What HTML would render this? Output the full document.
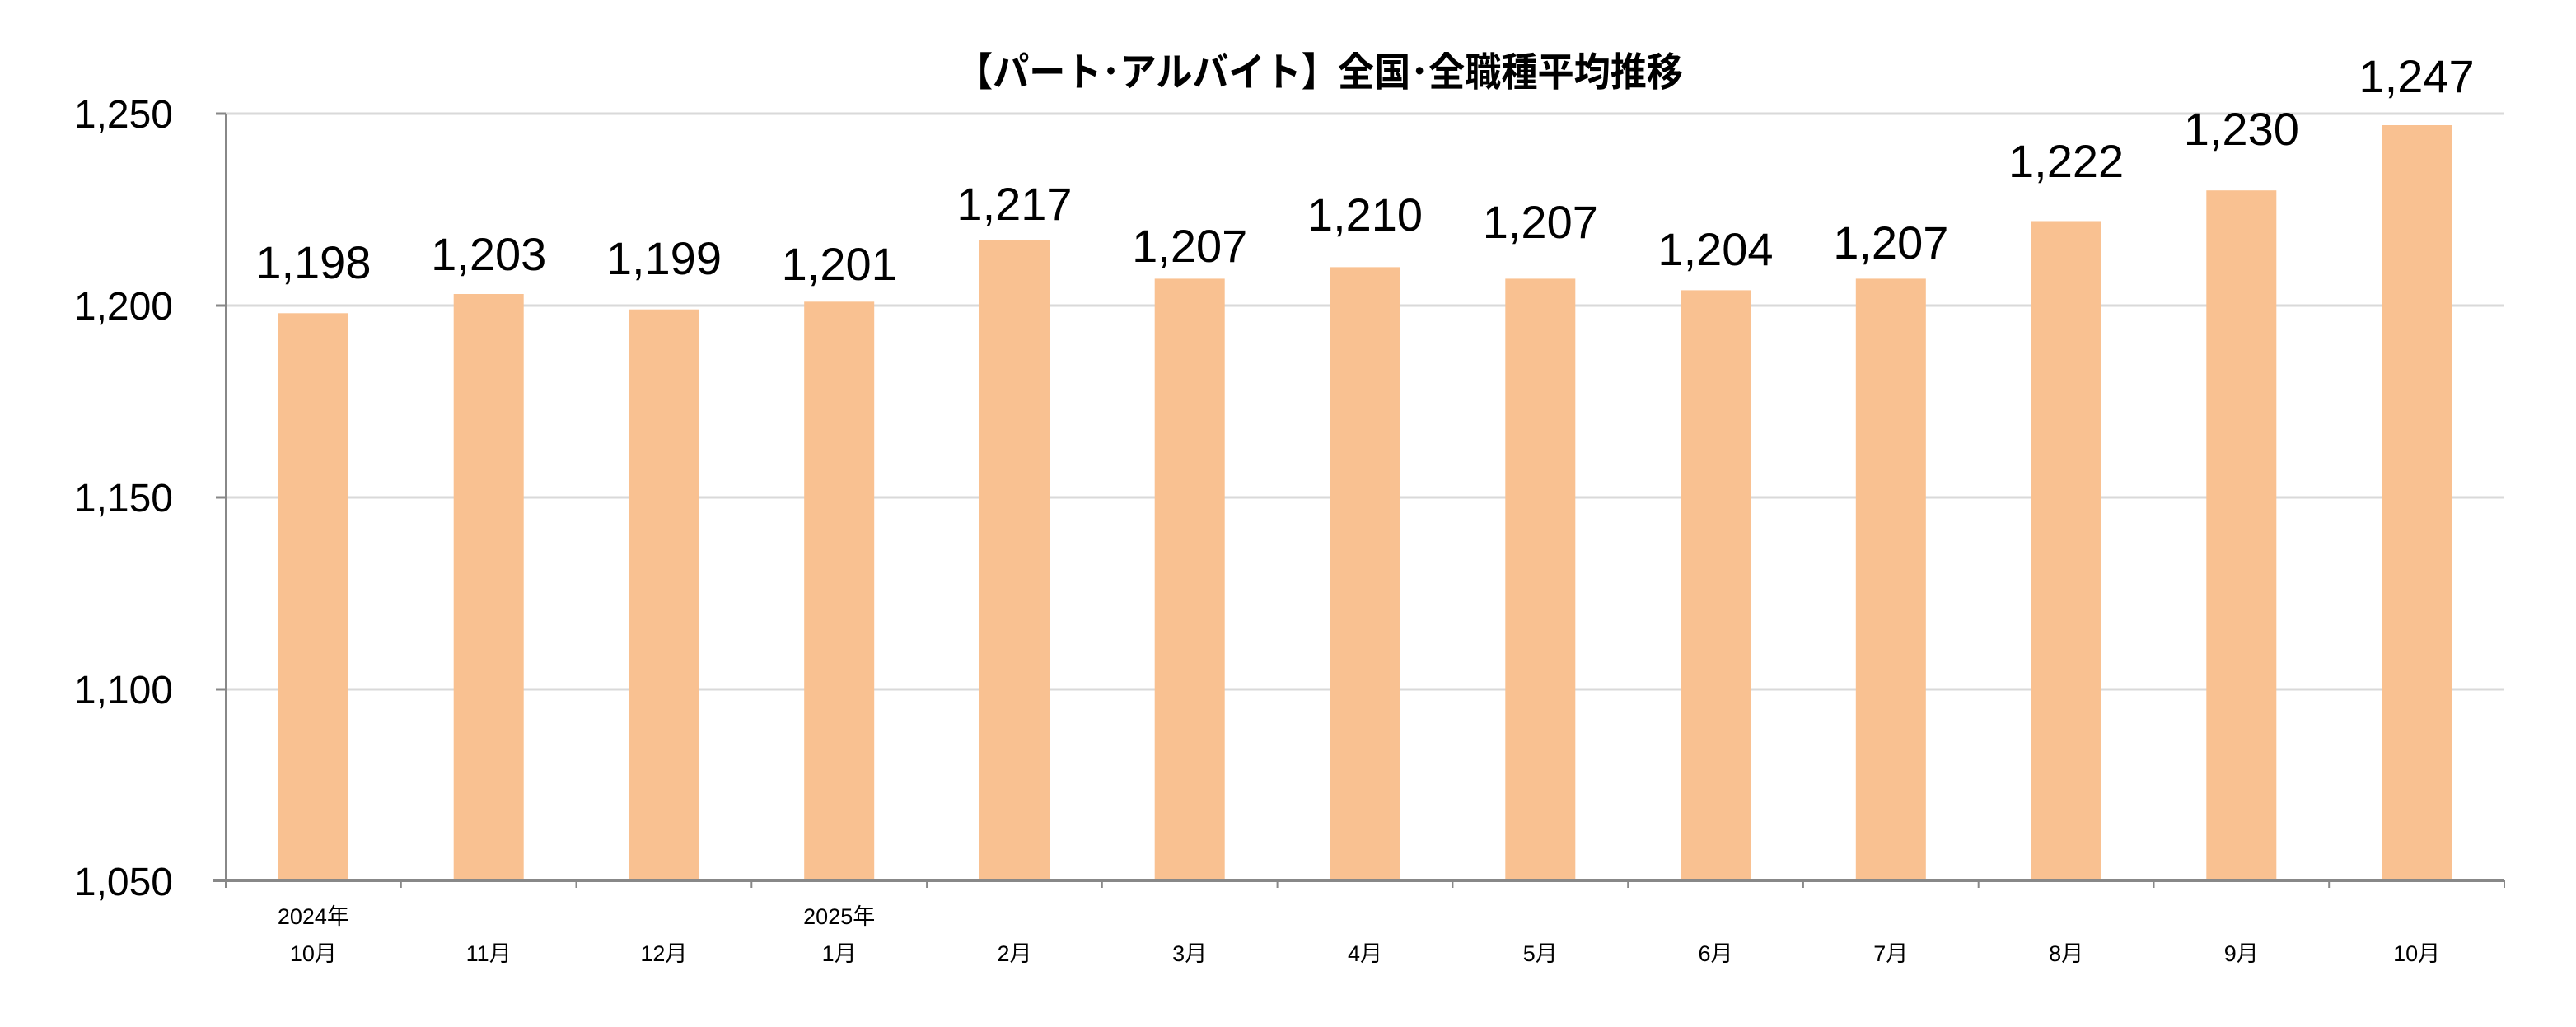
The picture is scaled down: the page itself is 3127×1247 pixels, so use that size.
<!DOCTYPE html>
<html><head><meta charset="utf-8"><style>html,body{margin:0;padding:0;background:#fff;}svg{display:block}</style></head>
<body>
<svg width="3127" height="1247" viewBox="0 0 3127 1247" xmlns="http://www.w3.org/2000/svg">
<rect width="3127" height="1247" fill="#fff"/>
<text x="1602" y="104" text-anchor="middle" font-family="'Liberation Sans','Noto Sans CJK JP',sans-serif" font-weight="bold" font-size="48" textLength="882" lengthAdjust="spacingAndGlyphs">【パート･アルバイト】全国･全職種平均推移</text>
<g stroke="#d9d9d9" stroke-width="3">
<line x1="274" y1="138" x2="3040" y2="138"/>
<line x1="274" y1="371" x2="3040" y2="371"/>
<line x1="274" y1="604" x2="3040" y2="604"/>
<line x1="274" y1="837" x2="3040" y2="837"/>
</g>
<g font-family="'Liberation Sans',sans-serif" font-size="48" text-anchor="end" fill="#000">
<text x="210" y="155">1,250</text>
<text x="210" y="388">1,200</text>
<text x="210" y="621">1,150</text>
<text x="210" y="854">1,100</text>
<text x="210" y="1087">1,050</text>
</g>
<g fill="#f9c191">
<rect x="337.9" y="380.3" width="85" height="689.7"/>
<rect x="550.7" y="357.0" width="85" height="713.0"/>
<rect x="763.4" y="375.7" width="85" height="694.3"/>
<rect x="976.2" y="366.3" width="85" height="703.7"/>
<rect x="1189.0" y="291.8" width="85" height="778.2"/>
<rect x="1401.7" y="338.4" width="85" height="731.6"/>
<rect x="1614.5" y="324.4" width="85" height="745.6"/>
<rect x="1827.3" y="338.4" width="85" height="731.6"/>
<rect x="2040.0" y="352.4" width="85" height="717.6"/>
<rect x="2252.8" y="338.4" width="85" height="731.6"/>
<rect x="2465.6" y="268.5" width="85" height="801.5"/>
<rect x="2678.3" y="231.2" width="85" height="838.8"/>
<rect x="2891.1" y="152.0" width="85" height="918.0"/>
</g>
<g font-family="'Liberation Sans',sans-serif" font-size="56" text-anchor="middle" fill="#000">
<text x="380.4" y="338">1,198</text>
<text x="593.2" y="328">1,203</text>
<text x="805.9" y="333">1,199</text>
<text x="1018.7" y="340">1,201</text>
<text x="1231.5" y="267">1,217</text>
<text x="1444.2" y="318">1,207</text>
<text x="1657.0" y="280">1,210</text>
<text x="1869.8" y="289">1,207</text>
<text x="2082.5" y="322">1,204</text>
<text x="2295.3" y="314">1,207</text>
<text x="2508.1" y="215">1,222</text>
<text x="2720.8" y="176">1,230</text>
<text x="2933.6" y="112">1,247</text>
</g>
<g font-family="'Liberation Sans','Noto Sans CJK JP',sans-serif" font-size="27" text-anchor="middle" fill="#000">
<text x="380.4" y="1122">2024年</text>
<text x="1018.7" y="1122">2025年</text>
<text x="380.4" y="1167">10月</text>
<text x="593.2" y="1167">11月</text>
<text x="805.9" y="1167">12月</text>
<text x="1018.7" y="1167">1月</text>
<text x="1231.5" y="1167">2月</text>
<text x="1444.2" y="1167">3月</text>
<text x="1657.0" y="1167">4月</text>
<text x="1869.8" y="1167">5月</text>
<text x="2082.5" y="1167">6月</text>
<text x="2295.3" y="1167">7月</text>
<text x="2508.1" y="1167">8月</text>
<text x="2720.8" y="1167">9月</text>
<text x="2933.6" y="1167">10月</text>
</g>
<g stroke="#888" stroke-width="2">
<line x1="274" y1="1069" x2="274" y2="1078"/>
<line x1="486.8" y1="1069" x2="486.8" y2="1078"/>
<line x1="699.5" y1="1069" x2="699.5" y2="1078"/>
<line x1="912.3" y1="1069" x2="912.3" y2="1078"/>
<line x1="1125.1" y1="1069" x2="1125.1" y2="1078"/>
<line x1="1337.8" y1="1069" x2="1337.8" y2="1078"/>
<line x1="1550.6" y1="1069" x2="1550.6" y2="1078"/>
<line x1="1763.4" y1="1069" x2="1763.4" y2="1078"/>
<line x1="1976.2" y1="1069" x2="1976.2" y2="1078"/>
<line x1="2188.9" y1="1069" x2="2188.9" y2="1078"/>
<line x1="2401.7" y1="1069" x2="2401.7" y2="1078"/>
<line x1="2614.5" y1="1069" x2="2614.5" y2="1078"/>
<line x1="2827.2" y1="1069" x2="2827.2" y2="1078"/>
<line x1="3040" y1="1069" x2="3040" y2="1078"/>
</g>
<line x1="274" y1="138" x2="274" y2="1070" stroke="#888" stroke-width="2"/>
<g stroke="#888" stroke-width="3">
<line x1="262" y1="138" x2="274" y2="138"/>
<line x1="262" y1="371" x2="274" y2="371"/>
<line x1="262" y1="604" x2="274" y2="604"/>
<line x1="262" y1="837" x2="274" y2="837"/>
</g>
<line x1="258" y1="1069" x2="3040" y2="1069" stroke="#888" stroke-width="4"/>
</svg>
</body></html>
